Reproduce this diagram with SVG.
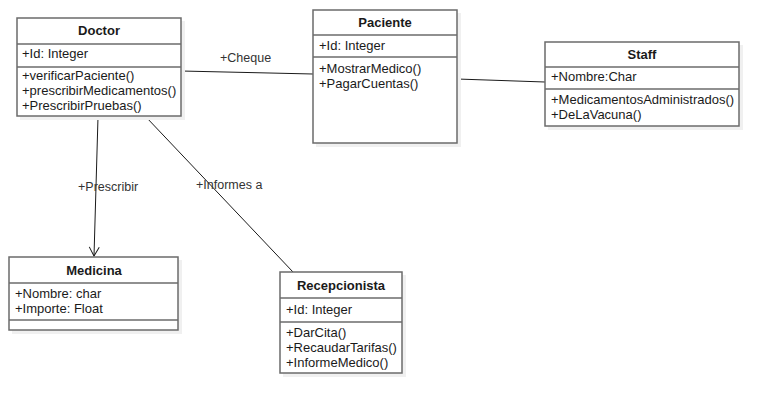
<svg xmlns="http://www.w3.org/2000/svg" width="778" height="414" viewBox="0 0 778 414">
<defs>
<style>
.shadow{fill:#f0f0f0;stroke:none}
.box{fill:#fff;stroke:#6b6b6b;stroke-width:1.5}
.sep{stroke:#6b6b6b;stroke-width:1.5}
.t{font-family:"Liberation Sans",Arial,sans-serif;font-size:13px;fill:#1a1a1a}
.b{font-weight:bold;text-anchor:middle}
.edge{stroke:#1a1a1a;stroke-width:1;fill:none}
.lbl{font-family:"Liberation Sans",Arial,sans-serif;font-size:12.5px;fill:#333}
</style>
<marker id="open" markerWidth="12" markerHeight="12" refX="10" refY="6" orient="auto" markerUnits="userSpaceOnUse">
<path d="M1,1 L10,6 L1,11" fill="none" stroke="#1a1a1a" stroke-width="1"/>
</marker>
</defs>
<rect width="778" height="414" fill="#fff"/>

<g id="connectors">
<line class="edge" x1="181" y1="71" x2="313" y2="74"/>
<text class="lbl" x="220" y="62">+Cheque</text>
<line class="edge" x1="457" y1="79" x2="545" y2="82"/>
<line class="edge" x1="98" y1="117" x2="94" y2="256" marker-end="url(#open)"/>
<text class="lbl" x="78" y="191">+Prescribir</text>
<line class="edge" x1="146" y1="117" x2="293" y2="272"/>
<text class="lbl" x="196" y="189">+Informes a</text>
</g>

<g id="Doctor">
<rect class="shadow" x="20" y="21" width="165" height="99"/>
<rect class="box" x="17" y="18" width="164" height="98"/>
<line class="sep" x1="17" y1="44" x2="181" y2="44"/>
<line class="sep" x1="17" y1="67" x2="181" y2="67"/>
<text class="t b" x="99" y="35">Doctor</text>
<text class="t" x="22" y="58">+Id: Integer</text>
<text class="t" x="22" y="80">+verificarPaciente()</text>
<text class="t" x="22" y="95">+prescribirMedicamentos()</text>
<text class="t" x="22" y="110">+PrescribirPruebas()</text>
</g>

<g id="Paciente">
<rect class="shadow" x="316" y="13" width="145" height="134"/>
<rect class="box" x="313" y="10" width="144" height="133"/>
<line class="sep" x1="313" y1="35" x2="457" y2="35"/>
<line class="sep" x1="313" y1="57" x2="457" y2="57"/>
<text class="t b" x="385" y="27">Paciente</text>
<text class="t" x="319" y="50">+Id: Integer</text>
<text class="t" x="319" y="73">+MostrarMedico()</text>
<text class="t" x="319" y="88">+PagarCuentas()</text>
</g>

<g id="Staff">
<rect class="shadow" x="548" y="45" width="195" height="85"/>
<rect class="box" x="545" y="42" width="194" height="84"/>
<line class="sep" x1="545" y1="67" x2="739" y2="67"/>
<line class="sep" x1="545" y1="89" x2="739" y2="89"/>
<text class="t b" x="642" y="59">Staff</text>
<text class="t" x="551" y="81">+Nombre:Char</text>
<text class="t" x="551" y="104">+MedicamentosAdministrados()</text>
<text class="t" x="551" y="119">+DeLaVacuna()</text>
</g>

<g id="Medicina">
<rect class="shadow" x="12" y="260" width="170" height="74"/>
<rect class="box" x="9" y="257" width="169" height="73"/>
<line class="sep" x1="9" y1="283" x2="178" y2="283"/>
<line class="sep" x1="9" y1="320" x2="178" y2="320"/>
<text class="t b" x="94" y="275">Medicina</text>
<text class="t" x="15" y="298">+Nombre: char</text>
<text class="t" x="15" y="313">+Importe: Float</text>
</g>

<g id="Recepcionista">
<rect class="shadow" x="283" y="275" width="123" height="102"/>
<rect class="box" x="280" y="272" width="122" height="101"/>
<line class="sep" x1="280" y1="298" x2="402" y2="298"/>
<line class="sep" x1="280" y1="322" x2="402" y2="322"/>
<text class="t b" x="341" y="290">Recepcionista</text>
<text class="t" x="286" y="314">+Id: Integer</text>
<text class="t" x="286" y="337">+DarCita()</text>
<text class="t" x="286" y="352">+RecaudarTarifas()</text>
<text class="t" x="286" y="367">+InformeMedico()</text>
</g>
</svg>
